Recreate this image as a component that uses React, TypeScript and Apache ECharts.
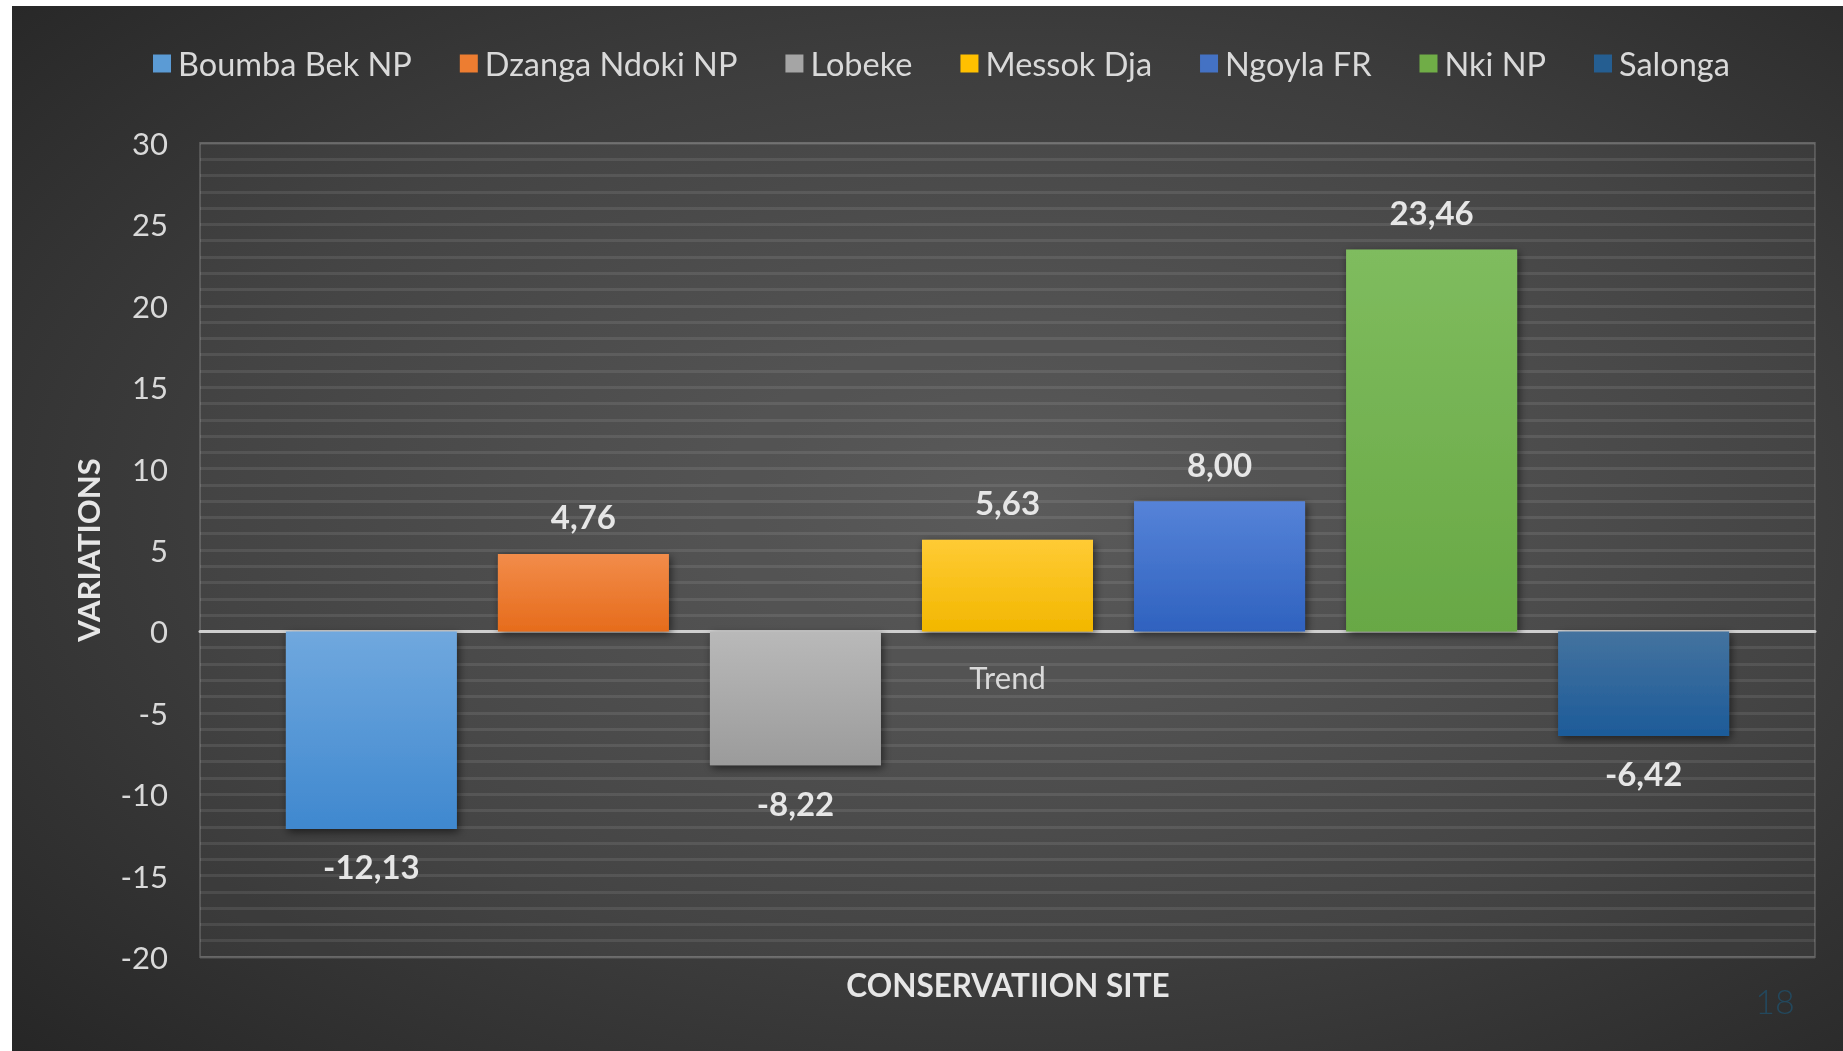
import React, { useEffect, useRef } from "react";
import * as echarts from "echarts";

const categories = ["Trend"];
const seriesNames = ["Boumba Bek NP", "Dzanga Ndoki NP", "Lobeke", "Messok Dja", "Ngoyla FR", "Nki NP", "Salonga"];
const seriesValues = [-12.13, 4.76, -8.22, 5.63, 8.0, 23.46, -6.42];
const seriesTop = ["#70a8de", "#f28c4a", "#b9b9b9", "#ffcb35", "#5683d8", "#7fbc5e", "#44739f"];
const seriesBottom = ["#3f88cf", "#e66c1c", "#9b9b9b", "#f2b700", "#2f62bf", "#68a845", "#1d5b99"];
const legendColors = ["#5b9bd5", "#ed7d31", "#a5a5a5", "#ffc000", "#4472c4", "#70ad47", "#255e91"];
const yMin = -20;
const yMax = 30;
const yInterval = 5;
const xTitle = "CONSERVATIION SITE";
const yTitle = "VARIATIONS";
const slideNumber = "18";

const FONT = "Lato, 'Open Sans', sans-serif";
const OX = 12;
const OY = 6;
const GRID_TOP = 143;
const GRID_BOTTOM = 957;

export default function App() {
  const ref = useRef<HTMLDivElement>(null);
  useEffect(() => {
    if (!ref.current) return;
    const chart = echarts.init(ref.current, null, { renderer: "svg" });
    const series = seriesNames.map((name, i) => ({
      name,
      type: "bar",
      barWidth: 171,
      barGap: "24%",
      data: [
        {
          value: seriesValues[i],
          label: { position: seriesValues[i] >= 0 ? "top" : "bottom" },
        },
      ],
      itemStyle: {
        color: new echarts.graphic.LinearGradient(0, 0, 0, 1, [
          { offset: 0, color: seriesTop[i] },
          { offset: 1, color: seriesBottom[i] },
        ]),
        shadowBlur: 8,
        shadowColor: "rgba(0,0,0,0.55)",
        shadowOffsetY: 3,
        shadowOffsetX: 2,
      },
      label: {
        show: true,
        distance: 21,
        color: "#e6e6e6",
        fontFamily: FONT,
        fontWeight: "bold",
        fontSize: 33,
        formatter: (p: any) => Number(p.value).toFixed(2).replace(".", ","),
      },
    }));
    // position of the zero line measured up from the bottom of the plot
    const zeroOffset = ((0 - yMin) / (yMax - yMin)) * (GRID_BOTTOM - GRID_TOP);
    chart.setOption({
      animation: false,
      backgroundColor: new echarts.graphic.RadialGradient(0.55, 0.48, 0.8, [
        { offset: 0, color: "#555555" },
        { offset: 0.55, color: "#3d3d3d" },
        { offset: 1, color: "#232323" },
      ]),
      color: legendColors,
      legend: {
        top: 47 - OY,
        left: 153 - OX,
        itemWidth: 18,
        itemHeight: 18,
        itemGap: 48,
        icon: "rect",
        data: seriesNames.map((n, i) => ({ name: n, itemStyle: { color: legendColors[i] } })),
        textStyle: { color: "#d9d9d9", fontSize: 32.5, fontFamily: FONT, padding: [0, 0, 0, 2] },
        height: 40,
        padding: 0,
      },
      grid: {
        left: 200 - OX,
        right: 1843 - 1815,
        top: GRID_TOP - OY,
        bottom: 1051 - GRID_BOTTOM,
        show: true,
        borderColor: "rgba(255,255,255,0.16)",
        borderWidth: 2,
        backgroundColor: "rgba(255,255,255,0.04)",
      },
      xAxis: {
        type: "category",
        data: categories,
        offset: -zeroOffset,
        axisTick: { show: false },
        axisLine: { show: true, onZero: false, lineStyle: { color: "#cfcfcf", width: 3 } },
        axisLabel: { color: "#d9d9d9", fontSize: 31, fontFamily: FONT, margin: 30 },
        splitLine: { show: false },
      },
      yAxis: {
        type: "value",
        min: yMin,
        max: yMax,
        interval: yInterval,
        axisLine: { show: false },
        axisTick: { show: false },
        axisLabel: { color: "#d9d9d9", fontSize: 31, fontFamily: FONT, margin: 32 },
        splitLine: { show: true, lineStyle: { color: "rgba(255,255,255,0.09)", width: 3 } },
        minorTick: { show: false, splitNumber: 5 },
        minorSplitLine: { show: true, lineStyle: { color: "rgba(255,255,255,0.09)", width: 3 } },
      },
      graphic: [
        {
          type: "text",
          x: 88 - OX,
          y: 550 - OY,
          rotation: Math.PI / 2,
          style: {
            text: yTitle,
            fill: "#e6e6e6",
            font: `bold 31px ${FONT}`,
            textAlign: "center",
            textVerticalAlign: "middle",
          },
        },
        {
          type: "text",
          x: 1008 - OX,
          y: 985 - OY,
          style: {
            text: xTitle,
            fill: "#e6e6e6",
            font: `bold 31.5px ${FONT}`,
            textAlign: "center",
            textVerticalAlign: "middle",
          },
        },
        {
          type: "text",
          x: 1775 - OX,
          y: 1000 - OY,
          style: {
            text: slideNumber,
            fill: "#23485d",
            font: `300 34px ${FONT}`,
            textAlign: "center",
            textVerticalAlign: "middle",
          },
        },
      ],
      series,
    });
    return () => chart.dispose();
  }, []);
  return (
    <div
      ref={ref}
      style={{ position: "fixed", left: OX, top: OY, width: 1843 - OX, height: 1051 - OY }}
    />
  );
}
